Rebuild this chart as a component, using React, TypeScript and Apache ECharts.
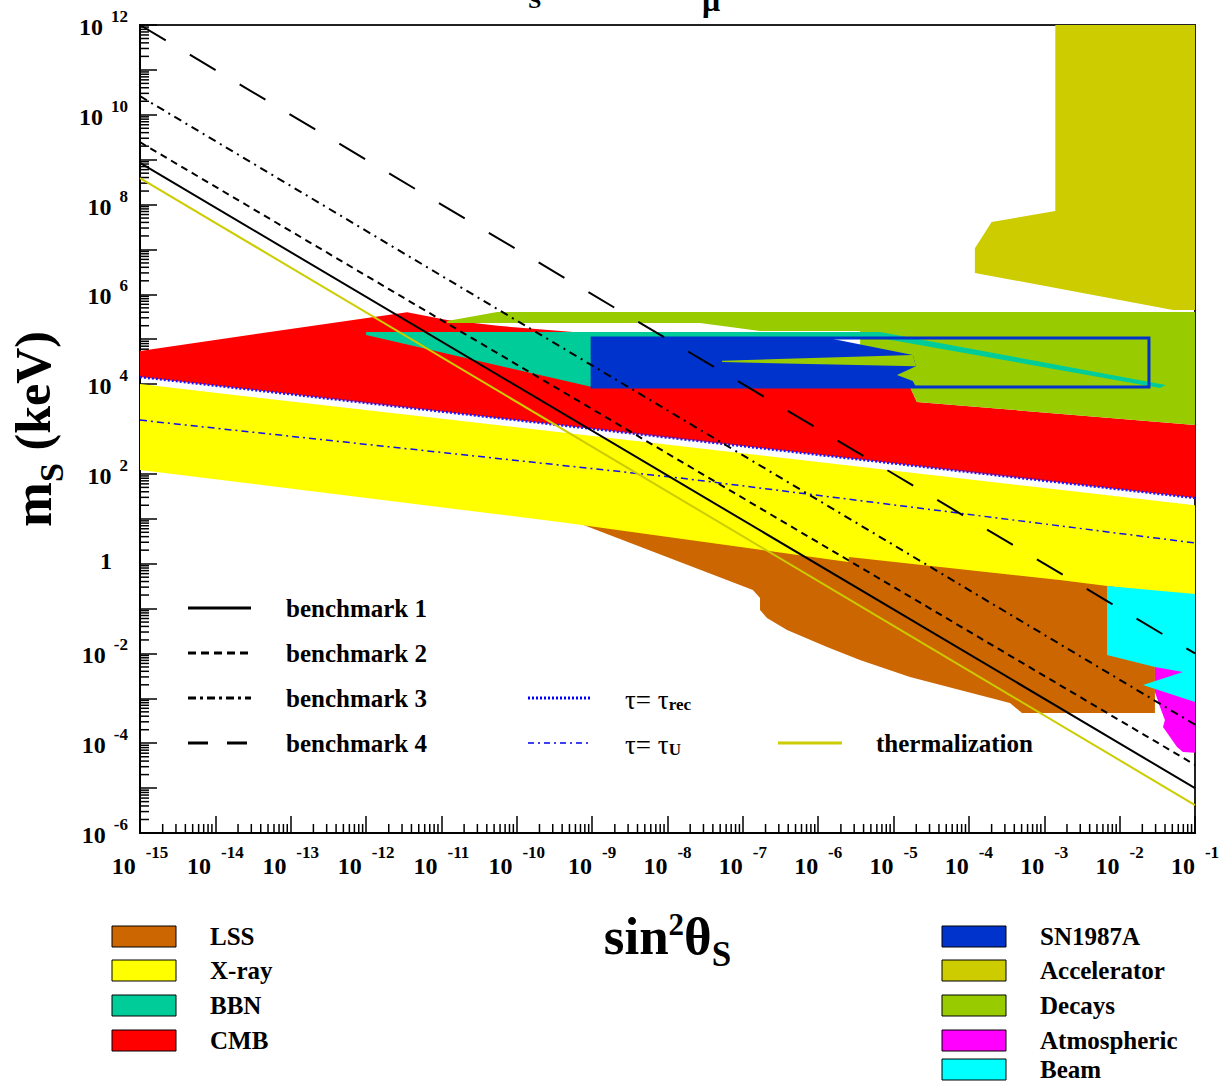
import React, { useEffect, useRef } from 'react';
import * as echarts from 'echarts';

type Pt = [number, number];

// ---- benchmark lines and lifetimes: [sin^2(theta_S), m_S in keV] ----
const benchmark1: Pt[] = [[1e-15, 8.5e8], [1e-1, 1.0e-5]];
const benchmark2: Pt[] = [[1e-15, 2.45e9], [1e-1, 3.3e-5]];
const benchmark3: Pt[] = [[1e-15, 2.6e10], [1e-1, 2.6e-4]];
const benchmark4: Pt[] = [[1e-15, 1.0e12], [1e-1, 1.0e-2]];
const thermalization: Pt[] = [[1e-15, 3.9e8], [1e-1, 4.2e-6]];
const tauRec: Pt[] = [[1e-15, 1.44e4], [1e-1, 29]];
const tauU: Pt[] = [[1e-15, 1.58e3], [1.47e-8, 81], [1e-1, 2.9]];

// ---- excluded regions (polygon vertices) ----
const lssRegion: Pt[] = [
  [4.4e-10, 10.4], [1.36e-7, 0.26], [1.69e-7, 0.172], [1.69e-7, 0.093], [2.09e-7, 0.0617],
  [3.86e-7, 0.0333], [1.31e-6, 0.0139], [3.58e-6, 7.1e-3], [1.65e-5, 3.0e-3], [7.6e-5, 1.53e-3],
  [3.5e-4, 7.9e-4], [5.06e-4, 4.7e-4], [0.0294, 4.7e-4], [0.0294, 0.287],
];
const xrayRegion: Pt[] = [
  [1e-15, 1.0e4], [0.1, 20], [0.1, 0.18], [1.6e-3, 0.43], [2.56e-6, 1.41], [2.5e-6, 1.09],
  [3.7e-10, 8.5], [1e-15, 122],
];
const cmbRegion: Pt[] = [
  [1e-15, 5.5e4], [3.5e-12, 4.0e5], [1.19e-11, 2.68e5], [6.0e-11, 1.97e5], [5.6e-10, 1.45e5],
  [1e-9, 1.31e5], [1.65e-5, 8.6e3], [2.04e-5, 4.0e3], [0.1, 1.23e3], [0.1, 29], [1e-15, 1.44e4],
];
const decaysRegion: Pt[] = [
  [1.19e-11, 2.55e5], [5.5e-11, 4.05e5], [0.1, 4.05e5], [0.1, 1.23e3], [2.04e-5, 4.0e3],
  [1.65e-5, 8.6e3], [3.6e-6, 8.6e3], [3.6e-6, 1.52e5], [1.69e-7, 1.52e5], [2.7e-8, 2.3e5],
  [1.19e-11, 2.3e5],
];
const decaysSliver: Pt[] = [[5.3e-8, 3.3e4], [1.8e-5, 4.46e4], [1.98e-5, 2.5e4], [5.3e-8, 3.1e4]];
const bbnRegion: Pt[] = [
  [1e-12, 1.45e5], [6.6e-6, 1.45e5], [0.041, 9.6e3], [0.0343, 8.2e3], [6.6e-6, 1.07e5],
  [1e-9, 1.07e5], [1e-9, 8.6e3], [1e-12, 1.24e5],
];
const snRegion: Pt[] = [
  [1e-9, 1.07e5], [1.35e-6, 1.07e5], [1.8e-5, 4.46e4], [1.98e-5, 2.5e4], [1.11e-5, 1.6e4],
  [1.8e-5, 1.17e4], [1.98e-5, 8.6e3], [1e-9, 8.6e3],
];
const snBox: Pt[] = [[1e-9, 1.07e5], [0.0245, 1.07e5], [0.0245, 8.6e3], [1e-9, 8.6e3]];
const acceleratorRegion: Pt[] = [
  [1.4e-3, 1e12], [1.4e-3, 7.2e7], [2.0e-4, 4.1e7], [1.2e-4, 1.07e7], [1.2e-4, 3.0e6],
  [0.051, 4.5e5], [0.1, 4.5e5], [0.1, 1e12],
];
const atmosphericRegion: Pt[] = [
  [0.0294, 5.5e-3], [0.1, 5.5e-3], [0.1, 6.1e-5], [0.0692, 6.4e-5], [0.0577, 8.2e-5],
  [0.0466, 1.38e-4], [0.0376, 2.3e-4], [0.0399, 3.3e-4], [0.0343, 6.4e-4], [0.0294, 1.38e-3],
];
const beamRegion: Pt[] = [
  [6.8e-3, 0.318], [0.1, 0.211], [0.1, 8.3e-4], [0.0204, 1.98e-3], [0.0692, 3.86e-3],
  [0.0294, 5.0e-3], [6.8e-3, 9.2e-3],
];

// ---- axes (decade exponents) ----
const X_MIN = -15;
const X_MAX = -1;
const Y_MIN = -6;
const Y_MAX = 12;

const bandLegendLeft = ['LSS', 'X-ray', 'BBN', 'CMB'];
const bandColorsLeft = ['#cc6600', '#ffff00', '#00cc99', '#ff0000'];
const bandLegendRight = ['SN1987A', 'Accelerator', 'Decays', 'Atmospheric', 'Beam'];
const bandColorsRight = ['#0033cc', '#cccc00', '#99cc00', '#ff00ff', '#00ffff'];

const SERIF = '"Liberation Serif", "Times New Roman", serif';

const toLog = (p: Pt): number[] => [Math.log10(p[0]), Math.log10(p[1])];

function regionSeries(name: string, polys: Pt[][], fill: string, stroke?: string, lineWidth = 0) {
  return {
    type: 'custom',
    name,
    silent: true,
    data: polys.map((p) => toLog(p[0])),
    renderItem: (params: any, api: any) => {
      const poly = polys[params.dataIndex];
      const points = poly.map((p) => api.coord(toLog(p)));
      return {
        type: 'polygon',
        shape: { points },
        style: { fill, stroke: stroke || null, lineWidth },
      };
    },
  };
}

function lineSeries(name: string, pts: Pt[], color: string, width: number, type: any) {
  return {
    type: 'line',
    name,
    silent: true,
    data: pts.map(toLog),
    symbol: 'none',
    lineStyle: { color, width, type, cap: 'butt' },
  };
}

// minor ticks at 2..9 of each decade
const xMinor: number[] = [];
for (let n = X_MIN; n < X_MAX; n++) for (let k = 2; k <= 9; k++) xMinor.push(n + Math.log10(k));
const yMinor: number[] = [];
for (let n = Y_MIN; n < Y_MAX; n++) for (let k = 2; k <= 9; k++) yMinor.push(n + Math.log10(k));

function tickSeries(vals: number[], horizontal: boolean) {
  return {
    type: 'custom',
    silent: true,
    data: vals.map((v) => (horizontal ? [X_MIN, v] : [v, Y_MIN])),
    renderItem: (params: any, api: any) => {
      const p = api.coord([api.value(0), api.value(1)]);
      const len = 9;
      return {
        type: 'line',
        shape: horizontal
          ? { x1: p[0], y1: p[1], x2: p[0] + len, y2: p[1] }
          : { x1: p[0], y1: p[1], x2: p[0], y2: p[1] - len },
        style: { stroke: '#000', lineWidth: 1.5 },
      };
    },
  };
}

const labelRich = {
  b: { fontFamily: SERIF, fontWeight: 'bold', fontSize: 24, lineHeight: 34, color: '#000', verticalAlign: 'bottom' },
  s: { fontFamily: SERIF, fontWeight: 'bold', fontSize: 17, lineHeight: 14, color: '#000', verticalAlign: 'top', padding: [0, 0, 0, 10] },
};
const yLabelRich = {
  b: { fontFamily: SERIF, fontWeight: 'bold', fontSize: 24, lineHeight: 36, color: '#000', verticalAlign: 'top', padding: [8, 0, 0, 0] },
  s: { fontFamily: SERIF, fontWeight: 'bold', fontSize: 17, lineHeight: 14, color: '#000', verticalAlign: 'top', padding: [1, 0, 0, 8] },
  one: { fontFamily: SERIF, fontWeight: 'bold', fontSize: 24, lineHeight: 36, color: '#000', verticalAlign: 'top', padding: [3, 16, 0, 0] },
};

const LEGEND_FONT = 'bold 25px ' + SERIF;

function legendGraphics() {
  const g: any[] = [];
  const rows = [608, 653, 698, 743];
  const bStyles: any[] = ['solid', [8, 5], [8, 4, 3, 4], [20, 19]];
  rows.forEach((y, i) => {
    g.push({
      type: 'line', shape: { x1: 188, y1: y, x2: 251, y2: y },
      style: { stroke: '#000', lineWidth: 3, lineDash: bStyles[i] === 'solid' ? null : bStyles[i] },
    });
    g.push({
      type: 'text', x: 286, y, style: { text: 'benchmark ' + (i + 1), font: LEGEND_FONT, fill: '#000', verticalAlign: 'middle' },
    });
  });
  g.push({ type: 'line', shape: { x1: 528, y1: 698, x2: 592, y2: 698 }, style: { stroke: '#0000ff', lineWidth: 3, lineDash: [2, 2] } });
  g.push({ type: 'line', shape: { x1: 528, y1: 743, x2: 592, y2: 743 }, style: { stroke: '#0000ee', lineWidth: 1.5, lineDash: [6, 4, 2, 4] } });
  const tauRich = {
    t: { fontFamily: SERIF, fontSize: 27, fill: '#000', verticalAlign: 'bottom', lineHeight: 30 },
    sub: { fontFamily: SERIF, fontWeight: 'bold', fontSize: 17, fill: '#000', verticalAlign: 'bottom', lineHeight: 18 },
  };
  g.push({ type: 'text', x: 625, y: 698, style: { text: '{t|τ= τ}{sub|rec}', rich: tauRich, verticalAlign: 'middle' } });
  g.push({ type: 'text', x: 625, y: 743, style: { text: '{t|τ= τ}{sub|U}', rich: tauRich, verticalAlign: 'middle' } });
  g.push({ type: 'line', shape: { x1: 778, y1: 743, x2: 842, y2: 743 }, style: { stroke: '#cccc00', lineWidth: 3 } });
  g.push({ type: 'text', x: 876, y: 743, style: { text: 'thermalization', font: LEGEND_FONT, fill: '#000', verticalAlign: 'middle' } });

  // region key below the axes
  const leftRows = [936, 970, 1005, 1040];
  bandLegendLeft.forEach((t, i) => {
    g.push({ type: 'rect', shape: { x: 112, y: leftRows[i] - 10, width: 64, height: 21 }, style: { fill: bandColorsLeft[i], stroke: '#000', lineWidth: 1 } });
    g.push({ type: 'text', x: 210, y: leftRows[i], style: { text: t, font: LEGEND_FONT, fill: '#000', verticalAlign: 'middle' } });
  });
  const rightRows = [936, 970, 1005, 1040, 1069];
  bandLegendRight.forEach((t, i) => {
    g.push({ type: 'rect', shape: { x: 942, y: rightRows[i] - 10, width: 64, height: 21 }, style: { fill: bandColorsRight[i], stroke: '#000', lineWidth: 1 } });
    g.push({ type: 'text', x: 1040, y: rightRows[i], style: { text: t, font: LEGEND_FONT, fill: '#000', verticalAlign: 'middle' } });
  });

  // title (runs off the top edge)
  g.push({ type: 'text', x: 528, y: 12, style: { text: 'S', font: 'bold 24px ' + SERIF, fill: '#000', verticalAlign: 'bottom' } });
  g.push({ type: 'text', x: 702, y: 16, style: { text: 'μ', font: 'bold 32px ' + SERIF, fill: '#000', verticalAlign: 'bottom' } });
  return g;
}

export default function App() {
  const ref = useRef<HTMLDivElement>(null);
  useEffect(() => {
    document.body.style.margin = '0';
    document.body.style.overflow = 'hidden';
    const chart = echarts.init(ref.current!, null, { renderer: 'svg' });
    const option: any = {
      animation: false,
      backgroundColor: '#ffffff',
      grid: {
        left: 140, top: 25, width: 1055, height: 808, show: true,
        borderColor: '#222', borderWidth: 2, backgroundColor: 'transparent',
        outerBoundsMode: 'none', containLabel: false,
      },
      xAxis: {
        type: 'value', min: X_MIN, max: X_MAX, interval: 1,
        axisLine: { onZero: false, lineStyle: { color: '#000', width: 2 } },
        axisTick: { inside: true, length: 17, lineStyle: { color: '#000', width: 1.5 } },
        splitLine: { show: false },
        axisLabel: { margin: 11, formatter: (v: number) => `{b|10}{s|${v}}`, rich: labelRich },
        name: '{b|sin}{sup|2}{b|θ}{sub|S}',
        nameLocation: 'middle',
        nameGap: 76,
        nameTextStyle: {
          rich: {
            b: { fontFamily: SERIF, fontWeight: 'bold', fontSize: 53, lineHeight: 52, color: '#000', verticalAlign: 'top' },
            sup: { fontFamily: SERIF, fontWeight: 'bold', fontSize: 31, lineHeight: 30, color: '#000', verticalAlign: 'top' },
            sub: { fontFamily: SERIF, fontWeight: 'bold', fontSize: 35, lineHeight: 34, color: '#000', verticalAlign: 'top', padding: [28, 0, 0, 0] },
          },
        },
      },
      yAxis: {
        type: 'value', min: Y_MIN, max: Y_MAX, interval: 1,
        axisLine: { onZero: false, lineStyle: { color: '#000', width: 2 } },
        axisTick: { inside: true, length: 17, lineStyle: { color: '#000', width: 1.5 } },
        splitLine: { show: false },
        axisLabel: {
          margin: 12,
          formatter: (v: number) => (v % 2 !== 0 ? '' : v === 0 ? '{one|1}' : `{b|10}{s|${v}}`),
          rich: yLabelRich,
        },
        name: '{m|m}{s|S}{k| (keV)}',
        nameLocation: 'middle',
        nameRotate: 90,
        nameGap: 67,
        nameTextStyle: {
          rich: {
            m: { fontFamily: SERIF, fontWeight: 'bold', fontSize: 54, lineHeight: 70, color: '#000', verticalAlign: 'middle' },
            s: { fontFamily: SERIF, fontWeight: 'bold', fontSize: 34, lineHeight: 22, color: '#000', verticalAlign: 'bottom' },
            k: { fontFamily: SERIF, fontWeight: 'bold', fontSize: 50, lineHeight: 70, color: '#000', verticalAlign: 'middle' },
          },
        },
      },
      graphic: legendGraphics(),
      series: [
        tickSeries(yMinor, true),
        tickSeries(xMinor, false),
        regionSeries('LSS', [lssRegion], '#cc6600'),
        regionSeries('X-ray', [xrayRegion], '#ffff00'),
        regionSeries('CMB', [cmbRegion], '#ff0000'),
        regionSeries('Decays', [decaysRegion], '#99cc00'),
        regionSeries('BBN', [bbnRegion], '#00cc99'),
        regionSeries('SN1987A', [snRegion], '#0033cc'),
        regionSeries('Decays', [decaysSliver], '#99cc00'),
        regionSeries('SN1987A', [snBox], 'none', '#0033cc', 3),
        regionSeries('Accelerator', [acceleratorRegion], '#cccc00'),
        regionSeries('Atmospheric', [atmosphericRegion], '#ff00ff'),
        regionSeries('Beam', [beamRegion], '#00ffff'),
        lineSeries('τ = τrec', tauRec, '#1a1aff', 2.5, [2, 2]),
        lineSeries('τ = τU', tauU, '#1010ee', 1.5, [7, 4, 2, 4]),
        lineSeries('thermalization', thermalization, '#cccc00', 2),
        lineSeries('benchmark 1', benchmark1, '#000', 2, 'solid'),
        lineSeries('benchmark 2', benchmark2, '#000', 2, [7, 5]),
        lineSeries('benchmark 3', benchmark3, '#000', 2, [8, 5, 2, 5]),
        lineSeries('benchmark 4', benchmark4, '#000', 2, [30, 28]),
      ],
    };
    chart.setOption(option);
    return () => chart.dispose();
  }, []);
  return <div ref={ref} style={{ width: 1223, height: 1083 }} />;
}
